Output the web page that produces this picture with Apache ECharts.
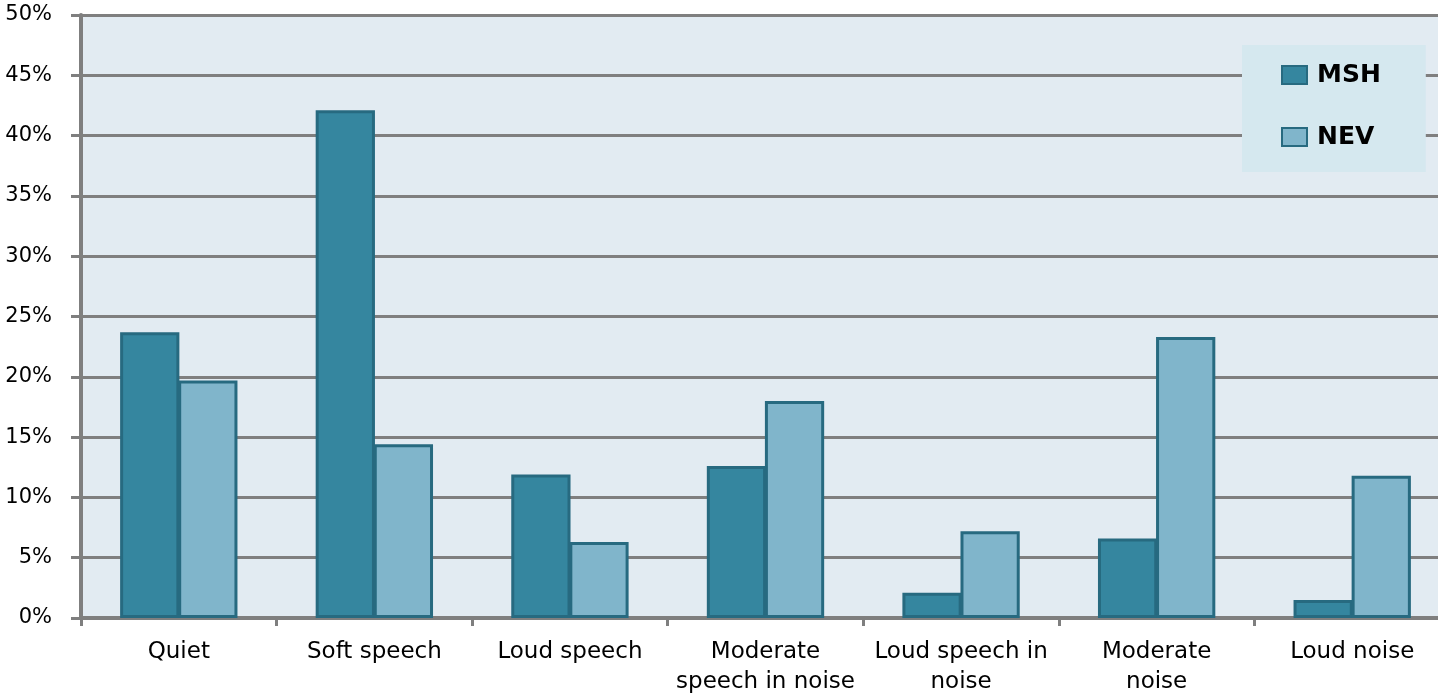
<!DOCTYPE html>
<html>
<head>
<meta charset="utf-8">
<script src="https://cdn.jsdelivr.net/npm/echarts@6/dist/echarts.min.js"></script>
<style>
  html, body { margin: 0; padding: 0; background: #fff; overflow: hidden; }
  #chart { width: 1450px; height: 696px; }
</style>
</head>
<body>
<div id="chart"></div>
<script>
// categories on the x axis
const categories = [
  'Quiet',
  'Soft speech',
  'Loud speech',
  'Moderate\nspeech in noise',
  'Loud speech in\nnoise',
  'Moderate\nnoise',
  'Loud noise'
];
// percentages
const mshValues = [23.7, 42.1, 11.9, 12.6, 2.1, 6.6, 1.5];
const nevValues = [19.7, 14.4, 6.3, 18.0, 7.2, 23.3, 11.8];

const gridGray = '#7f7f7f';
const barBorder = '#276a80';

// the plot runs a little past the right edge of the window, as in the original
const chart = echarts.init(document.getElementById('chart'));
const option = {
  animation: false,
  textStyle: { fontFamily: 'DejaVu Sans' },
  grid: {
    left: 81,
    top: 15,
    right: 0,
    bottom: 78,
    outerBoundsMode: 'none',
    show: true,
    backgroundColor: '#e2ebf2',
    borderWidth: 0
  },
  legend: {
    orient: 'vertical',
    left: 1242,
    top: 45,
    icon: 'rect',
    itemWidth: 25,
    itemHeight: 18,
    itemGap: 36,
    padding: [17, 45, 22, 39],
    backgroundColor: '#d5e8ef',
    itemStyle: { borderColor: barBorder, borderWidth: 2 },
    textStyle: {
      fontSize: 25, fontWeight: 'bold', color: '#000', fontFamily: 'DejaVu Sans',
      lineHeight: 26, padding: [0, 0, 0, 5]
    },
    data: ['MSH', 'NEV']
  },
  xAxis: {
    type: 'category',
    data: categories,
    axisLine: { lineStyle: { color: gridGray, width: 4 } },
    axisTick: { show: true, length: 8, lineStyle: { color: gridGray, width: 3 } },
    axisLabel: { color: '#000', fontSize: 23, lineHeight: 30, margin: 19, interval: 0 }
  },
  yAxis: {
    type: 'value',
    min: 0,
    max: 50,
    interval: 5,
    axisLine: { show: true, lineStyle: { color: gridGray, width: 4 } },
    axisTick: { show: true, length: 10, lineStyle: { color: gridGray, width: 3 } },
    axisLabel: { color: '#000', fontSize: 21, margin: 29, formatter: '{value}%' },
    splitLine: { lineStyle: { color: gridGray, width: 3 } }
  },
  series: [
    {
      name: 'MSH',
      type: 'bar',
      data: mshValues,
      barGap: '-2%',
      barCategoryGap: '40%',
      itemStyle: { color: '#35869f', borderColor: barBorder, borderWidth: 3 }
    },
    {
      name: 'NEV',
      type: 'bar',
      data: nevValues,
      itemStyle: { color: '#80b5cb', borderColor: barBorder, borderWidth: 3 }
    }
  ]
};
chart.setOption(option);
</script>
</body>
</html>
